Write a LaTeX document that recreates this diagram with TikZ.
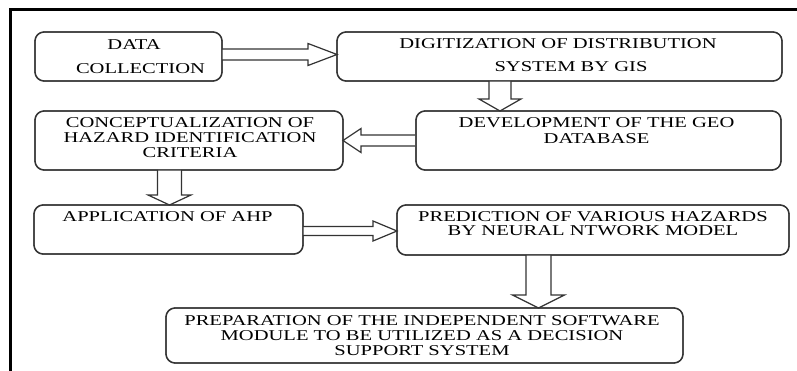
\documentclass[tikz,border=0pt]{standalone}
\usepackage{fontspec}
\setmainfont{Liberation Serif}[FakeStretch=1.37]
\usetikzlibrary{calc}
\newcommand\blockarrow[6]{% tip, rotation, length, head length, half shaft, half head
  \draw[blk, shift={#1}, rotate=#2] (-#3,#5) -- (-#4,#5) -- (-#4,#6) -- (0,0) -- (-#4,-#6) -- (-#4,-#5) -- (-#3,-#5);}
\begin{document}
\begin{tikzpicture}[x=1pt,y=-1pt,
  box/.style={draw=black!80, line width=1.3pt, rounded corners=9pt, fill=white, inner sep=0pt, outer sep=0pt},
  blk/.style={draw=black!80, line width=1.2pt, fill=white, line join=miter},
  txt/.style={font=\fontsize{15}{15}\selectfont, align=center, inner sep=0pt, anchor=base}]
\useasboundingbox (0,0) rectangle (797,371);
\fill[white] (0,0) rectangle (797,371);
\draw[line width=2.6pt] (797,9.5) -- (10.5,9.5) -- (10.5,372);
% boxes
\node[box, minimum width=187pt, minimum height=49pt] (b1) at (128.5,56.5) {};
\node[box, minimum width=445pt, minimum height=49pt] (b2) at (559.5,56.5) {};
\node[box, minimum width=365pt, minimum height=59pt] (b3) at (598.5,140.5) {};
\node[box, minimum width=308pt, minimum height=59pt] (b4) at (189,140.5) {};
\node[box, minimum width=269pt, minimum height=49pt] (b5) at (168.5,229.5) {};
\node[box, minimum width=392pt, minimum height=50pt] (b6) at (593,230) {};
\node[box, minimum width=517pt, minimum height=55pt] (b7) at (424.5,335.5) {};
% connectors
\coordinate (t1) at ($(b2.west)+(0,-2)$);
\coordinate (t2) at ($(b3.north west)+(84,0)$);
\coordinate (t3) at (b4.east);
\coordinate (t4) at ($(b5.north west)+(135.5,0)$);
\coordinate (t5) at ($(b6.west)+(0,1)$);
\coordinate (t6) at ($(b7.north west)+(372.5,0)$);
\blockarrow{(t1)}{0}{115}{29}{5.5}{11}
\blockarrow{(t2)}{-90}{30}{12}{11}{21}
\blockarrow{(t3)}{180}{72}{18}{5.5}{12}
\blockarrow{(t4)}{-90}{35}{10}{12}{21.5}
\blockarrow{(t5)}{0}{94}{24}{4.5}{10}
\blockarrow{(t6)}{-90}{53}{13}{12.5}{26}
% redraw boxes on top of arrow ends
\foreach \b in {b1,b2,b3,b4,b5,b6,b7}{\draw[draw=black!80, line width=1.3pt, rounded corners=9pt] (\b.north west) rectangle (\b.south east);}
% texts (anchor=base is the baseline of the last line)
\node[txt, font=\fontsize{15}{24}\selectfont] (l1) at (137.5,74) {DATA\hspace*{7pt}\\\hspace*{6pt}COLLECTION};
\node[txt, font=\fontsize{15}{23}\selectfont] (l2) at (558,72) {DIGITIZATION OF DISTRIBUTION\\\hspace*{26pt}SYSTEM BY GIS};
\node[txt, font=\fontsize{15}{16}\selectfont] (l3) at (596.5,144) {DEVELOPMENT OF THE GEO\\DATABASE};
\node[txt] (l4) at (190,158) {CONCEPTUALIZATION OF\\HAZARD IDENTIFICATION\\CRITERIA};
\node[txt] (l5) at (167.5,222) {APPLICATION OF AHP};
\node[txt, font=\fontsize{15}{14}\selectfont] (l6) at (593,236) {PREDICTION OF VARIOUS HAZARDS\\BY NEURAL NTWORK MODEL};
\node[txt] (l7) at (422,355) {PREPARATION OF THE INDEPENDENT SOFTWARE\\MODULE TO BE UTILIZED AS A DECISION\\SUPPORT SYSTEM};
\end{tikzpicture}
\end{document}
